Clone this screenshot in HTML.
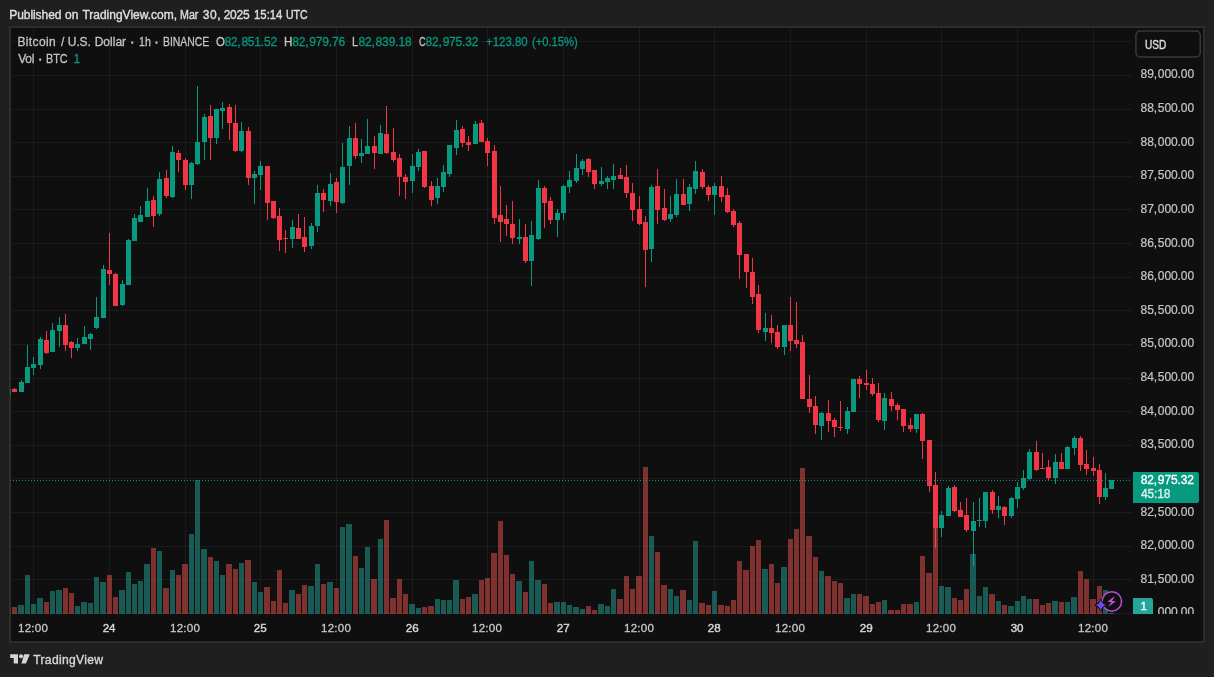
<!DOCTYPE html>
<html><head><meta charset="utf-8"><title>BTCUSD</title><style>
html,body{margin:0;padding:0}
body{width:1214px;height:677px;background:#1f1f1f;position:relative;overflow:hidden;font-family:"Liberation Sans", Arial, sans-serif;font-size:12px;color:#c4c4c4}
#txt{position:absolute;left:0;top:0;width:1214px;height:677px;will-change:transform}
.t{position:absolute;white-space:nowrap;line-height:14px;height:14px}
#frame{position:absolute;left:9px;top:26px;width:1196px;height:617px;box-sizing:border-box;border:2px solid #2d2d2d;background:#0f0f0f}
</style></head><body>
<div id="frame"></div>
<svg width="1214" height="677" viewBox="0 0 1214 677" style="position:absolute;left:0;top:0" shape-rendering="crispEdges">
<defs><clipPath id="pane"><rect x="11" y="28" width="1121" height="586"/></clipPath></defs>
<g fill="rgba(255,255,255,0.052)"><rect x="11" y="41" width="1121" height="1"/><rect x="11" y="75" width="1121" height="1"/><rect x="11" y="109" width="1121" height="1"/><rect x="11" y="142" width="1121" height="1"/><rect x="11" y="176" width="1121" height="1"/><rect x="11" y="209" width="1121" height="1"/><rect x="11" y="243" width="1121" height="1"/><rect x="11" y="277" width="1121" height="1"/><rect x="11" y="310" width="1121" height="1"/><rect x="11" y="344" width="1121" height="1"/><rect x="11" y="378" width="1121" height="1"/><rect x="11" y="411" width="1121" height="1"/><rect x="11" y="445" width="1121" height="1"/><rect x="11" y="478" width="1121" height="1"/><rect x="11" y="512" width="1121" height="1"/><rect x="11" y="546" width="1121" height="1"/><rect x="11" y="579" width="1121" height="1"/><rect x="11" y="613" width="1121" height="1"/><rect x="33" y="28" width="1" height="586"/><rect x="109" y="28" width="1" height="586"/><rect x="185" y="28" width="1" height="586"/><rect x="260" y="28" width="1" height="586"/><rect x="336" y="28" width="1" height="586"/><rect x="412" y="28" width="1" height="586"/><rect x="487" y="28" width="1" height="586"/><rect x="563" y="28" width="1" height="586"/><rect x="639" y="28" width="1" height="586"/><rect x="714" y="28" width="1" height="586"/><rect x="790" y="28" width="1" height="586"/><rect x="866" y="28" width="1" height="586"/><rect x="941" y="28" width="1" height="586"/><rect x="1017" y="28" width="1" height="586"/><rect x="1093" y="28" width="1" height="586"/></g>
<g clip-path="url(#pane)"><g fill="#089981"><rect x="8" y="389" width="1" height="6"/><rect x="6" y="389" width="5" height="6"/><rect x="21" y="380" width="1" height="12"/><rect x="19" y="382" width="5" height="10"/><rect x="27" y="345" width="1" height="38"/><rect x="25" y="367" width="5" height="16"/><rect x="33" y="357" width="1" height="18"/><rect x="31" y="364" width="5" height="4"/><rect x="40" y="337" width="1" height="32"/><rect x="38" y="339" width="5" height="26"/><rect x="52" y="323" width="1" height="29"/><rect x="50" y="330" width="5" height="22"/><rect x="59" y="317" width="1" height="30"/><rect x="57" y="325" width="5" height="6"/><rect x="77" y="338" width="1" height="13"/><rect x="75" y="344" width="5" height="4"/><rect x="84" y="326" width="1" height="18"/><rect x="82" y="337" width="5" height="7"/><rect x="90" y="333" width="1" height="17"/><rect x="88" y="334" width="5" height="5"/><rect x="96" y="297" width="1" height="32"/><rect x="94" y="317" width="5" height="11"/><rect x="103" y="265" width="1" height="53"/><rect x="101" y="269" width="5" height="49"/><rect x="122" y="280" width="1" height="26"/><rect x="120" y="284" width="5" height="21"/><rect x="128" y="239" width="1" height="46"/><rect x="126" y="240" width="5" height="45"/><rect x="134" y="214" width="1" height="27"/><rect x="132" y="218" width="5" height="23"/><rect x="140" y="206" width="1" height="16"/><rect x="138" y="215" width="5" height="7"/><rect x="147" y="188" width="1" height="29"/><rect x="145" y="201" width="5" height="16"/><rect x="159" y="172" width="1" height="44"/><rect x="157" y="179" width="5" height="35"/><rect x="172" y="146" width="1" height="52"/><rect x="170" y="152" width="5" height="45"/><rect x="191" y="162" width="1" height="37"/><rect x="189" y="163" width="5" height="22"/><rect x="197" y="86" width="1" height="79"/><rect x="195" y="142" width="5" height="22"/><rect x="204" y="114" width="1" height="46"/><rect x="202" y="117" width="5" height="25"/><rect x="216" y="109" width="1" height="35"/><rect x="214" y="109" width="5" height="29"/><rect x="222" y="102" width="1" height="27"/><rect x="220" y="108" width="5" height="3"/><rect x="241" y="122" width="1" height="30"/><rect x="239" y="131" width="5" height="20"/><rect x="254" y="171" width="1" height="33"/><rect x="252" y="174" width="5" height="4"/><rect x="260" y="161" width="1" height="29"/><rect x="258" y="166" width="5" height="9"/><rect x="292" y="220" width="1" height="28"/><rect x="290" y="227" width="5" height="12"/><rect x="311" y="223" width="1" height="26"/><rect x="309" y="226" width="5" height="20"/><rect x="317" y="185" width="1" height="47"/><rect x="315" y="193" width="5" height="33"/><rect x="330" y="173" width="1" height="33"/><rect x="328" y="184" width="5" height="17"/><rect x="342" y="143" width="1" height="61"/><rect x="340" y="167" width="5" height="36"/><rect x="349" y="126" width="1" height="59"/><rect x="347" y="138" width="5" height="28"/><rect x="361" y="139" width="1" height="24"/><rect x="359" y="153" width="5" height="3"/><rect x="367" y="119" width="1" height="35"/><rect x="365" y="146" width="5" height="8"/><rect x="380" y="125" width="1" height="29"/><rect x="378" y="133" width="5" height="21"/><rect x="412" y="154" width="1" height="39"/><rect x="410" y="166" width="5" height="15"/><rect x="418" y="149" width="1" height="22"/><rect x="416" y="152" width="5" height="15"/><rect x="437" y="178" width="1" height="26"/><rect x="435" y="186" width="5" height="12"/><rect x="443" y="165" width="1" height="27"/><rect x="441" y="172" width="5" height="15"/><rect x="449" y="145" width="1" height="32"/><rect x="447" y="145" width="5" height="29"/><rect x="456" y="120" width="1" height="35"/><rect x="454" y="130" width="5" height="18"/><rect x="475" y="121" width="1" height="23"/><rect x="473" y="124" width="5" height="20"/><rect x="519" y="219" width="1" height="25"/><rect x="517" y="237" width="5" height="2"/><rect x="531" y="221" width="1" height="65"/><rect x="529" y="235" width="5" height="26"/><rect x="538" y="180" width="1" height="60"/><rect x="536" y="188" width="5" height="51"/><rect x="557" y="209" width="1" height="28"/><rect x="555" y="213" width="5" height="7"/><rect x="563" y="185" width="1" height="35"/><rect x="561" y="186" width="5" height="27"/><rect x="569" y="171" width="1" height="22"/><rect x="567" y="180" width="5" height="7"/><rect x="576" y="154" width="1" height="29"/><rect x="574" y="168" width="5" height="13"/><rect x="582" y="159" width="1" height="16"/><rect x="580" y="161" width="5" height="8"/><rect x="601" y="167" width="1" height="19"/><rect x="599" y="181" width="5" height="3"/><rect x="607" y="176" width="1" height="13"/><rect x="605" y="178" width="5" height="4"/><rect x="613" y="164" width="1" height="25"/><rect x="611" y="176" width="5" height="4"/><rect x="651" y="185" width="1" height="77"/><rect x="649" y="187" width="5" height="62"/><rect x="670" y="196" width="1" height="26"/><rect x="668" y="214" width="5" height="5"/><rect x="676" y="179" width="1" height="38"/><rect x="674" y="194" width="5" height="21"/><rect x="689" y="184" width="1" height="27"/><rect x="687" y="187" width="5" height="17"/><rect x="695" y="161" width="1" height="33"/><rect x="693" y="171" width="5" height="18"/><rect x="714" y="183" width="1" height="32"/><rect x="712" y="186" width="5" height="9"/><rect x="765" y="313" width="1" height="28"/><rect x="763" y="328" width="5" height="4"/><rect x="784" y="325" width="1" height="30"/><rect x="782" y="325" width="5" height="22"/><rect x="821" y="412" width="1" height="28"/><rect x="819" y="413" width="5" height="13"/><rect x="847" y="407" width="1" height="27"/><rect x="845" y="411" width="5" height="18"/><rect x="853" y="379" width="1" height="33"/><rect x="851" y="379" width="5" height="33"/><rect x="884" y="393" width="1" height="37"/><rect x="882" y="398" width="5" height="23"/><rect x="916" y="414" width="1" height="19"/><rect x="914" y="414" width="5" height="15"/><rect x="941" y="511" width="1" height="26"/><rect x="939" y="515" width="5" height="13"/><rect x="948" y="486" width="1" height="30"/><rect x="946" y="488" width="5" height="28"/><rect x="973" y="502" width="1" height="64"/><rect x="971" y="521" width="5" height="10"/><rect x="979" y="498" width="1" height="29"/><rect x="977" y="520" width="5" height="1"/><rect x="985" y="492" width="1" height="36"/><rect x="983" y="492" width="5" height="29"/><rect x="998" y="496" width="1" height="22"/><rect x="996" y="506" width="5" height="4"/><rect x="1011" y="497" width="1" height="21"/><rect x="1009" y="498" width="5" height="18"/><rect x="1017" y="482" width="1" height="26"/><rect x="1015" y="487" width="5" height="12"/><rect x="1023" y="470" width="1" height="20"/><rect x="1021" y="478" width="5" height="10"/><rect x="1029" y="449" width="1" height="31"/><rect x="1027" y="452" width="5" height="27"/><rect x="1055" y="454" width="1" height="30"/><rect x="1053" y="462" width="5" height="16"/><rect x="1067" y="446" width="1" height="23"/><rect x="1065" y="447" width="5" height="22"/><rect x="1074" y="436" width="1" height="19"/><rect x="1072" y="438" width="5" height="10"/><rect x="1105" y="473" width="1" height="27"/><rect x="1103" y="488" width="5" height="9"/><rect x="1111" y="480" width="1" height="9"/><rect x="1109" y="480" width="5" height="9"/></g><g fill="#f23645"><rect x="14" y="388" width="1" height="4"/><rect x="12" y="389" width="5" height="3"/><rect x="46" y="331" width="1" height="23"/><rect x="44" y="340" width="5" height="13"/><rect x="65" y="314" width="1" height="37"/><rect x="63" y="325" width="5" height="20"/><rect x="71" y="341" width="1" height="17"/><rect x="69" y="342" width="5" height="6"/><rect x="109" y="233" width="1" height="52"/><rect x="107" y="270" width="5" height="4"/><rect x="115" y="273" width="1" height="33"/><rect x="113" y="274" width="5" height="32"/><rect x="153" y="196" width="1" height="31"/><rect x="151" y="200" width="5" height="16"/><rect x="166" y="170" width="1" height="28"/><rect x="164" y="178" width="5" height="18"/><rect x="178" y="150" width="1" height="22"/><rect x="176" y="153" width="5" height="7"/><rect x="185" y="158" width="1" height="32"/><rect x="183" y="160" width="5" height="25"/><rect x="210" y="105" width="1" height="55"/><rect x="208" y="116" width="5" height="22"/><rect x="229" y="104" width="1" height="36"/><rect x="227" y="107" width="5" height="16"/><rect x="235" y="105" width="1" height="47"/><rect x="233" y="123" width="5" height="28"/><rect x="248" y="127" width="1" height="58"/><rect x="246" y="131" width="5" height="47"/><rect x="267" y="166" width="1" height="54"/><rect x="265" y="166" width="5" height="37"/><rect x="273" y="201" width="1" height="18"/><rect x="271" y="201" width="5" height="17"/><rect x="279" y="208" width="1" height="43"/><rect x="277" y="216" width="5" height="24"/><rect x="285" y="230" width="1" height="23"/><rect x="283" y="238" width="5" height="1"/><rect x="298" y="214" width="1" height="25"/><rect x="296" y="228" width="5" height="11"/><rect x="304" y="217" width="1" height="35"/><rect x="302" y="237" width="5" height="10"/><rect x="323" y="189" width="1" height="23"/><rect x="321" y="193" width="5" height="7"/><rect x="336" y="178" width="1" height="35"/><rect x="334" y="182" width="5" height="20"/><rect x="355" y="123" width="1" height="36"/><rect x="353" y="138" width="5" height="18"/><rect x="374" y="136" width="1" height="33"/><rect x="372" y="146" width="5" height="7"/><rect x="386" y="106" width="1" height="48"/><rect x="384" y="134" width="5" height="19"/><rect x="393" y="128" width="1" height="34"/><rect x="391" y="152" width="5" height="8"/><rect x="399" y="154" width="1" height="42"/><rect x="397" y="158" width="5" height="19"/><rect x="405" y="174" width="1" height="25"/><rect x="403" y="177" width="5" height="5"/><rect x="424" y="151" width="1" height="37"/><rect x="422" y="151" width="5" height="36"/><rect x="431" y="181" width="1" height="25"/><rect x="429" y="186" width="5" height="14"/><rect x="462" y="126" width="1" height="21"/><rect x="460" y="129" width="5" height="14"/><rect x="468" y="136" width="1" height="15"/><rect x="466" y="142" width="5" height="3"/><rect x="481" y="120" width="1" height="22"/><rect x="479" y="123" width="5" height="19"/><rect x="487" y="138" width="1" height="28"/><rect x="485" y="141" width="5" height="12"/><rect x="494" y="145" width="1" height="79"/><rect x="492" y="151" width="5" height="67"/><rect x="500" y="186" width="1" height="56"/><rect x="498" y="215" width="5" height="7"/><rect x="506" y="205" width="1" height="31"/><rect x="504" y="219" width="5" height="5"/><rect x="512" y="201" width="1" height="43"/><rect x="510" y="224" width="5" height="14"/><rect x="525" y="224" width="1" height="39"/><rect x="523" y="237" width="5" height="24"/><rect x="544" y="186" width="1" height="42"/><rect x="542" y="188" width="5" height="15"/><rect x="550" y="197" width="1" height="27"/><rect x="548" y="201" width="5" height="19"/><rect x="588" y="158" width="1" height="19"/><rect x="586" y="159" width="5" height="13"/><rect x="594" y="170" width="1" height="19"/><rect x="592" y="170" width="5" height="14"/><rect x="620" y="168" width="1" height="11"/><rect x="618" y="175" width="5" height="4"/><rect x="626" y="165" width="1" height="33"/><rect x="624" y="177" width="5" height="16"/><rect x="632" y="183" width="1" height="38"/><rect x="630" y="193" width="5" height="17"/><rect x="639" y="196" width="1" height="29"/><rect x="637" y="209" width="5" height="15"/><rect x="645" y="216" width="1" height="71"/><rect x="643" y="222" width="5" height="28"/><rect x="657" y="169" width="1" height="55"/><rect x="655" y="186" width="5" height="24"/><rect x="664" y="189" width="1" height="32"/><rect x="662" y="208" width="5" height="12"/><rect x="683" y="179" width="1" height="26"/><rect x="681" y="194" width="5" height="11"/><rect x="702" y="169" width="1" height="20"/><rect x="700" y="172" width="5" height="15"/><rect x="708" y="185" width="1" height="16"/><rect x="706" y="187" width="5" height="8"/><rect x="721" y="176" width="1" height="26"/><rect x="719" y="186" width="5" height="11"/><rect x="727" y="188" width="1" height="25"/><rect x="725" y="195" width="5" height="17"/><rect x="733" y="209" width="1" height="18"/><rect x="731" y="211" width="5" height="14"/><rect x="739" y="221" width="1" height="58"/><rect x="737" y="223" width="5" height="32"/><rect x="746" y="254" width="1" height="34"/><rect x="744" y="254" width="5" height="18"/><rect x="752" y="258" width="1" height="46"/><rect x="750" y="272" width="5" height="25"/><rect x="758" y="285" width="1" height="48"/><rect x="756" y="294" width="5" height="36"/><rect x="771" y="315" width="1" height="28"/><rect x="769" y="328" width="5" height="5"/><rect x="777" y="325" width="1" height="24"/><rect x="775" y="332" width="5" height="15"/><rect x="790" y="297" width="1" height="54"/><rect x="788" y="325" width="5" height="16"/><rect x="796" y="302" width="1" height="46"/><rect x="794" y="340" width="5" height="4"/><rect x="802" y="335" width="1" height="64"/><rect x="800" y="342" width="5" height="57"/><rect x="809" y="375" width="1" height="38"/><rect x="807" y="399" width="5" height="8"/><rect x="815" y="396" width="1" height="38"/><rect x="813" y="406" width="5" height="19"/><rect x="828" y="400" width="1" height="32"/><rect x="826" y="413" width="5" height="8"/><rect x="834" y="418" width="1" height="19"/><rect x="832" y="420" width="5" height="7"/><rect x="840" y="401" width="1" height="30"/><rect x="838" y="427" width="5" height="1"/><rect x="859" y="376" width="1" height="22"/><rect x="857" y="379" width="5" height="5"/><rect x="866" y="370" width="1" height="20"/><rect x="864" y="383" width="5" height="2"/><rect x="872" y="378" width="1" height="18"/><rect x="870" y="384" width="5" height="10"/><rect x="878" y="383" width="1" height="39"/><rect x="876" y="393" width="5" height="27"/><rect x="891" y="392" width="1" height="19"/><rect x="889" y="399" width="5" height="7"/><rect x="897" y="403" width="1" height="17"/><rect x="895" y="405" width="5" height="5"/><rect x="903" y="409" width="1" height="23"/><rect x="901" y="409" width="5" height="17"/><rect x="910" y="418" width="1" height="14"/><rect x="908" y="425" width="5" height="4"/><rect x="922" y="413" width="1" height="46"/><rect x="920" y="414" width="5" height="27"/><rect x="929" y="440" width="1" height="52"/><rect x="927" y="440" width="5" height="46"/><rect x="935" y="472" width="1" height="76"/><rect x="933" y="485" width="5" height="43"/><rect x="954" y="485" width="1" height="27"/><rect x="952" y="487" width="5" height="24"/><rect x="960" y="502" width="1" height="15"/><rect x="958" y="510" width="5" height="7"/><rect x="966" y="498" width="1" height="34"/><rect x="964" y="515" width="5" height="15"/><rect x="992" y="490" width="1" height="24"/><rect x="990" y="492" width="5" height="18"/><rect x="1004" y="506" width="1" height="19"/><rect x="1002" y="507" width="5" height="9"/><rect x="1036" y="441" width="1" height="30"/><rect x="1034" y="452" width="5" height="18"/><rect x="1042" y="453" width="1" height="16"/><rect x="1040" y="468" width="5" height="1"/><rect x="1048" y="460" width="1" height="20"/><rect x="1046" y="467" width="5" height="11"/><rect x="1061" y="453" width="1" height="16"/><rect x="1059" y="462" width="5" height="7"/><rect x="1080" y="436" width="1" height="35"/><rect x="1078" y="438" width="5" height="27"/><rect x="1086" y="450" width="1" height="25"/><rect x="1084" y="464" width="5" height="5"/><rect x="1093" y="457" width="1" height="19"/><rect x="1091" y="468" width="5" height="3"/><rect x="1099" y="464" width="1" height="40"/><rect x="1097" y="470" width="5" height="27"/></g></g>
<g clip-path="url(#pane)"><g fill="rgba(38,166,154,0.5)"><rect x="6" y="608" width="5" height="6"/><rect x="18" y="605" width="6" height="9"/><rect x="25" y="575" width="5" height="39"/><rect x="31" y="604" width="5" height="10"/><rect x="37" y="598" width="6" height="16"/><rect x="50" y="591" width="5" height="23"/><rect x="56" y="590" width="6" height="24"/><rect x="75" y="606" width="5" height="8"/><rect x="81" y="602" width="6" height="12"/><rect x="88" y="603" width="5" height="11"/><rect x="94" y="577" width="5" height="37"/><rect x="100" y="582" width="6" height="32"/><rect x="119" y="590" width="6" height="24"/><rect x="126" y="572" width="5" height="42"/><rect x="132" y="584" width="5" height="30"/><rect x="138" y="581" width="5" height="33"/><rect x="144" y="564" width="6" height="50"/><rect x="157" y="551" width="5" height="63"/><rect x="170" y="570" width="5" height="44"/><rect x="189" y="534" width="5" height="80"/><rect x="195" y="480" width="5" height="134"/><rect x="201" y="549" width="6" height="65"/><rect x="214" y="561" width="5" height="53"/><rect x="220" y="575" width="5" height="39"/><rect x="239" y="563" width="5" height="51"/><rect x="252" y="582" width="5" height="32"/><rect x="258" y="592" width="5" height="22"/><rect x="289" y="590" width="6" height="24"/><rect x="308" y="586" width="6" height="28"/><rect x="315" y="564" width="5" height="50"/><rect x="327" y="582" width="6" height="32"/><rect x="340" y="527" width="5" height="87"/><rect x="346" y="524" width="6" height="90"/><rect x="359" y="568" width="5" height="46"/><rect x="365" y="547" width="5" height="67"/><rect x="378" y="539" width="5" height="75"/><rect x="409" y="604" width="6" height="10"/><rect x="416" y="608" width="5" height="6"/><rect x="435" y="599" width="5" height="15"/><rect x="441" y="600" width="5" height="14"/><rect x="447" y="600" width="5" height="14"/><rect x="453" y="580" width="6" height="34"/><rect x="472" y="594" width="6" height="20"/><rect x="516" y="581" width="6" height="33"/><rect x="529" y="561" width="5" height="53"/><rect x="535" y="580" width="6" height="34"/><rect x="554" y="602" width="6" height="12"/><rect x="561" y="602" width="5" height="12"/><rect x="567" y="605" width="5" height="9"/><rect x="573" y="607" width="6" height="7"/><rect x="580" y="609" width="5" height="5"/><rect x="598" y="604" width="6" height="10"/><rect x="605" y="606" width="5" height="8"/><rect x="611" y="589" width="5" height="25"/><rect x="649" y="536" width="5" height="78"/><rect x="668" y="589" width="5" height="25"/><rect x="674" y="596" width="5" height="18"/><rect x="687" y="600" width="5" height="14"/><rect x="693" y="541" width="5" height="73"/><rect x="712" y="591" width="5" height="23"/><rect x="762" y="569" width="6" height="45"/><rect x="781" y="567" width="6" height="47"/><rect x="819" y="571" width="5" height="43"/><rect x="844" y="598" width="6" height="16"/><rect x="851" y="594" width="5" height="20"/><rect x="882" y="600" width="5" height="14"/><rect x="914" y="602" width="5" height="12"/><rect x="939" y="586" width="5" height="28"/><rect x="945" y="587" width="6" height="27"/><rect x="970" y="554" width="6" height="60"/><rect x="977" y="596" width="5" height="18"/><rect x="983" y="587" width="5" height="27"/><rect x="996" y="601" width="5" height="13"/><rect x="1008" y="606" width="6" height="8"/><rect x="1015" y="601" width="5" height="13"/><rect x="1021" y="596" width="5" height="18"/><rect x="1027" y="599" width="5" height="15"/><rect x="1052" y="601" width="6" height="13"/><rect x="1065" y="602" width="5" height="12"/><rect x="1071" y="597" width="6" height="17"/><rect x="1103" y="590" width="5" height="24"/><rect x="1109" y="613" width="5" height="1"/></g><g fill="rgba(239,83,80,0.5)"><rect x="12" y="607" width="5" height="7"/><rect x="44" y="602" width="5" height="12"/><rect x="63" y="588" width="5" height="26"/><rect x="69" y="593" width="5" height="21"/><rect x="107" y="575" width="5" height="39"/><rect x="113" y="597" width="5" height="17"/><rect x="151" y="548" width="5" height="66"/><rect x="163" y="588" width="6" height="26"/><rect x="176" y="575" width="5" height="39"/><rect x="182" y="564" width="6" height="50"/><rect x="208" y="557" width="5" height="57"/><rect x="226" y="564" width="6" height="50"/><rect x="233" y="569" width="5" height="45"/><rect x="245" y="560" width="6" height="54"/><rect x="264" y="587" width="6" height="27"/><rect x="271" y="601" width="5" height="13"/><rect x="277" y="570" width="5" height="44"/><rect x="283" y="603" width="5" height="11"/><rect x="296" y="594" width="5" height="20"/><rect x="302" y="585" width="5" height="29"/><rect x="321" y="584" width="5" height="30"/><rect x="334" y="588" width="5" height="26"/><rect x="353" y="556" width="5" height="58"/><rect x="371" y="579" width="6" height="35"/><rect x="384" y="520" width="5" height="94"/><rect x="390" y="598" width="6" height="16"/><rect x="397" y="579" width="5" height="35"/><rect x="403" y="594" width="5" height="20"/><rect x="422" y="607" width="5" height="7"/><rect x="428" y="606" width="6" height="8"/><rect x="460" y="599" width="5" height="15"/><rect x="466" y="597" width="5" height="17"/><rect x="479" y="580" width="5" height="34"/><rect x="485" y="578" width="5" height="36"/><rect x="491" y="553" width="6" height="61"/><rect x="498" y="521" width="5" height="93"/><rect x="504" y="555" width="5" height="59"/><rect x="510" y="574" width="5" height="40"/><rect x="523" y="592" width="5" height="22"/><rect x="542" y="584" width="5" height="30"/><rect x="548" y="603" width="5" height="11"/><rect x="586" y="606" width="5" height="8"/><rect x="592" y="610" width="5" height="4"/><rect x="617" y="599" width="6" height="15"/><rect x="624" y="576" width="5" height="38"/><rect x="630" y="589" width="5" height="25"/><rect x="636" y="576" width="6" height="38"/><rect x="643" y="467" width="5" height="147"/><rect x="655" y="552" width="5" height="62"/><rect x="661" y="585" width="6" height="29"/><rect x="680" y="590" width="6" height="24"/><rect x="699" y="603" width="6" height="11"/><rect x="706" y="605" width="5" height="9"/><rect x="718" y="605" width="6" height="9"/><rect x="725" y="606" width="5" height="8"/><rect x="731" y="600" width="5" height="14"/><rect x="737" y="561" width="5" height="53"/><rect x="743" y="570" width="6" height="44"/><rect x="750" y="546" width="5" height="68"/><rect x="756" y="540" width="5" height="74"/><rect x="769" y="564" width="5" height="50"/><rect x="775" y="583" width="5" height="31"/><rect x="788" y="539" width="5" height="75"/><rect x="794" y="529" width="5" height="85"/><rect x="800" y="468" width="5" height="146"/><rect x="806" y="536" width="6" height="78"/><rect x="813" y="557" width="5" height="57"/><rect x="825" y="576" width="6" height="38"/><rect x="832" y="581" width="5" height="33"/><rect x="838" y="583" width="5" height="31"/><rect x="857" y="594" width="5" height="20"/><rect x="863" y="596" width="6" height="18"/><rect x="870" y="604" width="5" height="10"/><rect x="876" y="602" width="5" height="12"/><rect x="888" y="610" width="6" height="4"/><rect x="895" y="610" width="5" height="4"/><rect x="901" y="604" width="5" height="10"/><rect x="907" y="604" width="6" height="10"/><rect x="920" y="556" width="5" height="58"/><rect x="926" y="573" width="6" height="41"/><rect x="933" y="528" width="5" height="86"/><rect x="952" y="598" width="5" height="16"/><rect x="958" y="600" width="5" height="14"/><rect x="964" y="589" width="5" height="25"/><rect x="989" y="594" width="6" height="20"/><rect x="1002" y="605" width="5" height="9"/><rect x="1033" y="599" width="6" height="15"/><rect x="1040" y="605" width="5" height="9"/><rect x="1046" y="603" width="5" height="11"/><rect x="1059" y="602" width="5" height="12"/><rect x="1078" y="571" width="5" height="43"/><rect x="1084" y="579" width="5" height="35"/><rect x="1090" y="599" width="6" height="15"/><rect x="1097" y="586" width="5" height="28"/></g></g>
<g fill="#089981"><rect x="13" y="480" width="1" height="1"/><rect x="16" y="480" width="1" height="1"/><rect x="19" y="480" width="1" height="1"/><rect x="22" y="480" width="1" height="1"/><rect x="25" y="480" width="1" height="1"/><rect x="28" y="480" width="1" height="1"/><rect x="31" y="480" width="1" height="1"/><rect x="34" y="480" width="1" height="1"/><rect x="37" y="480" width="1" height="1"/><rect x="40" y="480" width="1" height="1"/><rect x="43" y="480" width="1" height="1"/><rect x="46" y="480" width="1" height="1"/><rect x="49" y="480" width="1" height="1"/><rect x="52" y="480" width="1" height="1"/><rect x="55" y="480" width="1" height="1"/><rect x="58" y="480" width="1" height="1"/><rect x="61" y="480" width="1" height="1"/><rect x="64" y="480" width="1" height="1"/><rect x="67" y="480" width="1" height="1"/><rect x="70" y="480" width="1" height="1"/><rect x="73" y="480" width="1" height="1"/><rect x="76" y="480" width="1" height="1"/><rect x="79" y="480" width="1" height="1"/><rect x="82" y="480" width="1" height="1"/><rect x="85" y="480" width="1" height="1"/><rect x="88" y="480" width="1" height="1"/><rect x="91" y="480" width="1" height="1"/><rect x="94" y="480" width="1" height="1"/><rect x="97" y="480" width="1" height="1"/><rect x="100" y="480" width="1" height="1"/><rect x="103" y="480" width="1" height="1"/><rect x="106" y="480" width="1" height="1"/><rect x="109" y="480" width="1" height="1"/><rect x="112" y="480" width="1" height="1"/><rect x="115" y="480" width="1" height="1"/><rect x="118" y="480" width="1" height="1"/><rect x="121" y="480" width="1" height="1"/><rect x="124" y="480" width="1" height="1"/><rect x="127" y="480" width="1" height="1"/><rect x="130" y="480" width="1" height="1"/><rect x="133" y="480" width="1" height="1"/><rect x="136" y="480" width="1" height="1"/><rect x="139" y="480" width="1" height="1"/><rect x="142" y="480" width="1" height="1"/><rect x="145" y="480" width="1" height="1"/><rect x="148" y="480" width="1" height="1"/><rect x="151" y="480" width="1" height="1"/><rect x="154" y="480" width="1" height="1"/><rect x="157" y="480" width="1" height="1"/><rect x="160" y="480" width="1" height="1"/><rect x="163" y="480" width="1" height="1"/><rect x="166" y="480" width="1" height="1"/><rect x="169" y="480" width="1" height="1"/><rect x="172" y="480" width="1" height="1"/><rect x="175" y="480" width="1" height="1"/><rect x="178" y="480" width="1" height="1"/><rect x="181" y="480" width="1" height="1"/><rect x="184" y="480" width="1" height="1"/><rect x="187" y="480" width="1" height="1"/><rect x="190" y="480" width="1" height="1"/><rect x="193" y="480" width="1" height="1"/><rect x="196" y="480" width="1" height="1"/><rect x="199" y="480" width="1" height="1"/><rect x="202" y="480" width="1" height="1"/><rect x="205" y="480" width="1" height="1"/><rect x="208" y="480" width="1" height="1"/><rect x="211" y="480" width="1" height="1"/><rect x="214" y="480" width="1" height="1"/><rect x="217" y="480" width="1" height="1"/><rect x="220" y="480" width="1" height="1"/><rect x="223" y="480" width="1" height="1"/><rect x="226" y="480" width="1" height="1"/><rect x="229" y="480" width="1" height="1"/><rect x="232" y="480" width="1" height="1"/><rect x="235" y="480" width="1" height="1"/><rect x="238" y="480" width="1" height="1"/><rect x="241" y="480" width="1" height="1"/><rect x="244" y="480" width="1" height="1"/><rect x="247" y="480" width="1" height="1"/><rect x="250" y="480" width="1" height="1"/><rect x="253" y="480" width="1" height="1"/><rect x="256" y="480" width="1" height="1"/><rect x="259" y="480" width="1" height="1"/><rect x="262" y="480" width="1" height="1"/><rect x="265" y="480" width="1" height="1"/><rect x="268" y="480" width="1" height="1"/><rect x="271" y="480" width="1" height="1"/><rect x="274" y="480" width="1" height="1"/><rect x="277" y="480" width="1" height="1"/><rect x="280" y="480" width="1" height="1"/><rect x="283" y="480" width="1" height="1"/><rect x="286" y="480" width="1" height="1"/><rect x="289" y="480" width="1" height="1"/><rect x="292" y="480" width="1" height="1"/><rect x="295" y="480" width="1" height="1"/><rect x="298" y="480" width="1" height="1"/><rect x="301" y="480" width="1" height="1"/><rect x="304" y="480" width="1" height="1"/><rect x="307" y="480" width="1" height="1"/><rect x="310" y="480" width="1" height="1"/><rect x="313" y="480" width="1" height="1"/><rect x="316" y="480" width="1" height="1"/><rect x="319" y="480" width="1" height="1"/><rect x="322" y="480" width="1" height="1"/><rect x="325" y="480" width="1" height="1"/><rect x="328" y="480" width="1" height="1"/><rect x="331" y="480" width="1" height="1"/><rect x="334" y="480" width="1" height="1"/><rect x="337" y="480" width="1" height="1"/><rect x="340" y="480" width="1" height="1"/><rect x="343" y="480" width="1" height="1"/><rect x="346" y="480" width="1" height="1"/><rect x="349" y="480" width="1" height="1"/><rect x="352" y="480" width="1" height="1"/><rect x="355" y="480" width="1" height="1"/><rect x="358" y="480" width="1" height="1"/><rect x="361" y="480" width="1" height="1"/><rect x="364" y="480" width="1" height="1"/><rect x="367" y="480" width="1" height="1"/><rect x="370" y="480" width="1" height="1"/><rect x="373" y="480" width="1" height="1"/><rect x="376" y="480" width="1" height="1"/><rect x="379" y="480" width="1" height="1"/><rect x="382" y="480" width="1" height="1"/><rect x="385" y="480" width="1" height="1"/><rect x="388" y="480" width="1" height="1"/><rect x="391" y="480" width="1" height="1"/><rect x="394" y="480" width="1" height="1"/><rect x="397" y="480" width="1" height="1"/><rect x="400" y="480" width="1" height="1"/><rect x="403" y="480" width="1" height="1"/><rect x="406" y="480" width="1" height="1"/><rect x="409" y="480" width="1" height="1"/><rect x="412" y="480" width="1" height="1"/><rect x="415" y="480" width="1" height="1"/><rect x="418" y="480" width="1" height="1"/><rect x="421" y="480" width="1" height="1"/><rect x="424" y="480" width="1" height="1"/><rect x="427" y="480" width="1" height="1"/><rect x="430" y="480" width="1" height="1"/><rect x="433" y="480" width="1" height="1"/><rect x="436" y="480" width="1" height="1"/><rect x="439" y="480" width="1" height="1"/><rect x="442" y="480" width="1" height="1"/><rect x="445" y="480" width="1" height="1"/><rect x="448" y="480" width="1" height="1"/><rect x="451" y="480" width="1" height="1"/><rect x="454" y="480" width="1" height="1"/><rect x="457" y="480" width="1" height="1"/><rect x="460" y="480" width="1" height="1"/><rect x="463" y="480" width="1" height="1"/><rect x="466" y="480" width="1" height="1"/><rect x="469" y="480" width="1" height="1"/><rect x="472" y="480" width="1" height="1"/><rect x="475" y="480" width="1" height="1"/><rect x="478" y="480" width="1" height="1"/><rect x="481" y="480" width="1" height="1"/><rect x="484" y="480" width="1" height="1"/><rect x="487" y="480" width="1" height="1"/><rect x="490" y="480" width="1" height="1"/><rect x="493" y="480" width="1" height="1"/><rect x="496" y="480" width="1" height="1"/><rect x="499" y="480" width="1" height="1"/><rect x="502" y="480" width="1" height="1"/><rect x="505" y="480" width="1" height="1"/><rect x="508" y="480" width="1" height="1"/><rect x="511" y="480" width="1" height="1"/><rect x="514" y="480" width="1" height="1"/><rect x="517" y="480" width="1" height="1"/><rect x="520" y="480" width="1" height="1"/><rect x="523" y="480" width="1" height="1"/><rect x="526" y="480" width="1" height="1"/><rect x="529" y="480" width="1" height="1"/><rect x="532" y="480" width="1" height="1"/><rect x="535" y="480" width="1" height="1"/><rect x="538" y="480" width="1" height="1"/><rect x="541" y="480" width="1" height="1"/><rect x="544" y="480" width="1" height="1"/><rect x="547" y="480" width="1" height="1"/><rect x="550" y="480" width="1" height="1"/><rect x="553" y="480" width="1" height="1"/><rect x="556" y="480" width="1" height="1"/><rect x="559" y="480" width="1" height="1"/><rect x="562" y="480" width="1" height="1"/><rect x="565" y="480" width="1" height="1"/><rect x="568" y="480" width="1" height="1"/><rect x="571" y="480" width="1" height="1"/><rect x="574" y="480" width="1" height="1"/><rect x="577" y="480" width="1" height="1"/><rect x="580" y="480" width="1" height="1"/><rect x="583" y="480" width="1" height="1"/><rect x="586" y="480" width="1" height="1"/><rect x="589" y="480" width="1" height="1"/><rect x="592" y="480" width="1" height="1"/><rect x="595" y="480" width="1" height="1"/><rect x="598" y="480" width="1" height="1"/><rect x="601" y="480" width="1" height="1"/><rect x="604" y="480" width="1" height="1"/><rect x="607" y="480" width="1" height="1"/><rect x="610" y="480" width="1" height="1"/><rect x="613" y="480" width="1" height="1"/><rect x="616" y="480" width="1" height="1"/><rect x="619" y="480" width="1" height="1"/><rect x="622" y="480" width="1" height="1"/><rect x="625" y="480" width="1" height="1"/><rect x="628" y="480" width="1" height="1"/><rect x="631" y="480" width="1" height="1"/><rect x="634" y="480" width="1" height="1"/><rect x="637" y="480" width="1" height="1"/><rect x="640" y="480" width="1" height="1"/><rect x="643" y="480" width="1" height="1"/><rect x="646" y="480" width="1" height="1"/><rect x="649" y="480" width="1" height="1"/><rect x="652" y="480" width="1" height="1"/><rect x="655" y="480" width="1" height="1"/><rect x="658" y="480" width="1" height="1"/><rect x="661" y="480" width="1" height="1"/><rect x="664" y="480" width="1" height="1"/><rect x="667" y="480" width="1" height="1"/><rect x="670" y="480" width="1" height="1"/><rect x="673" y="480" width="1" height="1"/><rect x="676" y="480" width="1" height="1"/><rect x="679" y="480" width="1" height="1"/><rect x="682" y="480" width="1" height="1"/><rect x="685" y="480" width="1" height="1"/><rect x="688" y="480" width="1" height="1"/><rect x="691" y="480" width="1" height="1"/><rect x="694" y="480" width="1" height="1"/><rect x="697" y="480" width="1" height="1"/><rect x="700" y="480" width="1" height="1"/><rect x="703" y="480" width="1" height="1"/><rect x="706" y="480" width="1" height="1"/><rect x="709" y="480" width="1" height="1"/><rect x="712" y="480" width="1" height="1"/><rect x="715" y="480" width="1" height="1"/><rect x="718" y="480" width="1" height="1"/><rect x="721" y="480" width="1" height="1"/><rect x="724" y="480" width="1" height="1"/><rect x="727" y="480" width="1" height="1"/><rect x="730" y="480" width="1" height="1"/><rect x="733" y="480" width="1" height="1"/><rect x="736" y="480" width="1" height="1"/><rect x="739" y="480" width="1" height="1"/><rect x="742" y="480" width="1" height="1"/><rect x="745" y="480" width="1" height="1"/><rect x="748" y="480" width="1" height="1"/><rect x="751" y="480" width="1" height="1"/><rect x="754" y="480" width="1" height="1"/><rect x="757" y="480" width="1" height="1"/><rect x="760" y="480" width="1" height="1"/><rect x="763" y="480" width="1" height="1"/><rect x="766" y="480" width="1" height="1"/><rect x="769" y="480" width="1" height="1"/><rect x="772" y="480" width="1" height="1"/><rect x="775" y="480" width="1" height="1"/><rect x="778" y="480" width="1" height="1"/><rect x="781" y="480" width="1" height="1"/><rect x="784" y="480" width="1" height="1"/><rect x="787" y="480" width="1" height="1"/><rect x="790" y="480" width="1" height="1"/><rect x="793" y="480" width="1" height="1"/><rect x="796" y="480" width="1" height="1"/><rect x="799" y="480" width="1" height="1"/><rect x="802" y="480" width="1" height="1"/><rect x="805" y="480" width="1" height="1"/><rect x="808" y="480" width="1" height="1"/><rect x="811" y="480" width="1" height="1"/><rect x="814" y="480" width="1" height="1"/><rect x="817" y="480" width="1" height="1"/><rect x="820" y="480" width="1" height="1"/><rect x="823" y="480" width="1" height="1"/><rect x="826" y="480" width="1" height="1"/><rect x="829" y="480" width="1" height="1"/><rect x="832" y="480" width="1" height="1"/><rect x="835" y="480" width="1" height="1"/><rect x="838" y="480" width="1" height="1"/><rect x="841" y="480" width="1" height="1"/><rect x="844" y="480" width="1" height="1"/><rect x="847" y="480" width="1" height="1"/><rect x="850" y="480" width="1" height="1"/><rect x="853" y="480" width="1" height="1"/><rect x="856" y="480" width="1" height="1"/><rect x="859" y="480" width="1" height="1"/><rect x="862" y="480" width="1" height="1"/><rect x="865" y="480" width="1" height="1"/><rect x="868" y="480" width="1" height="1"/><rect x="871" y="480" width="1" height="1"/><rect x="874" y="480" width="1" height="1"/><rect x="877" y="480" width="1" height="1"/><rect x="880" y="480" width="1" height="1"/><rect x="883" y="480" width="1" height="1"/><rect x="886" y="480" width="1" height="1"/><rect x="889" y="480" width="1" height="1"/><rect x="892" y="480" width="1" height="1"/><rect x="895" y="480" width="1" height="1"/><rect x="898" y="480" width="1" height="1"/><rect x="901" y="480" width="1" height="1"/><rect x="904" y="480" width="1" height="1"/><rect x="907" y="480" width="1" height="1"/><rect x="910" y="480" width="1" height="1"/><rect x="913" y="480" width="1" height="1"/><rect x="916" y="480" width="1" height="1"/><rect x="919" y="480" width="1" height="1"/><rect x="922" y="480" width="1" height="1"/><rect x="925" y="480" width="1" height="1"/><rect x="928" y="480" width="1" height="1"/><rect x="931" y="480" width="1" height="1"/><rect x="934" y="480" width="1" height="1"/><rect x="937" y="480" width="1" height="1"/><rect x="940" y="480" width="1" height="1"/><rect x="943" y="480" width="1" height="1"/><rect x="946" y="480" width="1" height="1"/><rect x="949" y="480" width="1" height="1"/><rect x="952" y="480" width="1" height="1"/><rect x="955" y="480" width="1" height="1"/><rect x="958" y="480" width="1" height="1"/><rect x="961" y="480" width="1" height="1"/><rect x="964" y="480" width="1" height="1"/><rect x="967" y="480" width="1" height="1"/><rect x="970" y="480" width="1" height="1"/><rect x="973" y="480" width="1" height="1"/><rect x="976" y="480" width="1" height="1"/><rect x="979" y="480" width="1" height="1"/><rect x="982" y="480" width="1" height="1"/><rect x="985" y="480" width="1" height="1"/><rect x="988" y="480" width="1" height="1"/><rect x="991" y="480" width="1" height="1"/><rect x="994" y="480" width="1" height="1"/><rect x="997" y="480" width="1" height="1"/><rect x="1000" y="480" width="1" height="1"/><rect x="1003" y="480" width="1" height="1"/><rect x="1006" y="480" width="1" height="1"/><rect x="1009" y="480" width="1" height="1"/><rect x="1012" y="480" width="1" height="1"/><rect x="1015" y="480" width="1" height="1"/><rect x="1018" y="480" width="1" height="1"/><rect x="1021" y="480" width="1" height="1"/><rect x="1024" y="480" width="1" height="1"/><rect x="1027" y="480" width="1" height="1"/><rect x="1030" y="480" width="1" height="1"/><rect x="1033" y="480" width="1" height="1"/><rect x="1036" y="480" width="1" height="1"/><rect x="1039" y="480" width="1" height="1"/><rect x="1042" y="480" width="1" height="1"/><rect x="1045" y="480" width="1" height="1"/><rect x="1048" y="480" width="1" height="1"/><rect x="1051" y="480" width="1" height="1"/><rect x="1054" y="480" width="1" height="1"/><rect x="1057" y="480" width="1" height="1"/><rect x="1060" y="480" width="1" height="1"/><rect x="1063" y="480" width="1" height="1"/><rect x="1066" y="480" width="1" height="1"/><rect x="1069" y="480" width="1" height="1"/><rect x="1072" y="480" width="1" height="1"/><rect x="1075" y="480" width="1" height="1"/><rect x="1078" y="480" width="1" height="1"/><rect x="1081" y="480" width="1" height="1"/><rect x="1084" y="480" width="1" height="1"/><rect x="1087" y="480" width="1" height="1"/><rect x="1090" y="480" width="1" height="1"/><rect x="1093" y="480" width="1" height="1"/><rect x="1096" y="480" width="1" height="1"/><rect x="1099" y="480" width="1" height="1"/><rect x="1102" y="480" width="1" height="1"/><rect x="1105" y="480" width="1" height="1"/><rect x="1108" y="480" width="1" height="1"/><rect x="1111" y="480" width="1" height="1"/><rect x="1114" y="480" width="1" height="1"/><rect x="1117" y="480" width="1" height="1"/><rect x="1120" y="480" width="1" height="1"/><rect x="1123" y="480" width="1" height="1"/><rect x="1126" y="480" width="1" height="1"/><rect x="1129" y="480" width="1" height="1"/></g>
<rect x="10" y="389" width="1" height="6" fill="#16705f"/><rect x="10" y="608" width="1" height="6" fill="#1f4a45"/><rect x="10" y="480" width="1" height="1" fill="#167a69"/>
</svg>
<div id="txt">
<div style="position:absolute;left:1132px;top:28px;width:71px;height:586px;overflow:hidden">
<div class="t" style="left:8.60px;top:39.00px;font-size:12px;letter-spacing:-0.081px;color:#c6c6c6;-webkit-text-stroke:0.2px #c6c6c6">89<span style="letter-spacing:0.7px">,</span>000.00</div>
<div class="t" style="left:8.60px;top:73.00px;font-size:12px;letter-spacing:-0.081px;color:#c6c6c6;-webkit-text-stroke:0.2px #c6c6c6">88<span style="letter-spacing:0.7px">,</span>500.00</div>
<div class="t" style="left:8.60px;top:107.00px;font-size:12px;letter-spacing:-0.081px;color:#c6c6c6;-webkit-text-stroke:0.2px #c6c6c6">88<span style="letter-spacing:0.7px">,</span>000.00</div>
<div class="t" style="left:8.60px;top:140.00px;font-size:12px;letter-spacing:-0.081px;color:#c6c6c6;-webkit-text-stroke:0.2px #c6c6c6">87<span style="letter-spacing:0.7px">,</span>500.00</div>
<div class="t" style="left:8.60px;top:174.00px;font-size:12px;letter-spacing:-0.081px;color:#c6c6c6;-webkit-text-stroke:0.2px #c6c6c6">87<span style="letter-spacing:0.7px">,</span>000.00</div>
<div class="t" style="left:8.60px;top:208.00px;font-size:12px;letter-spacing:-0.081px;color:#c6c6c6;-webkit-text-stroke:0.2px #c6c6c6">86<span style="letter-spacing:0.7px">,</span>500.00</div>
<div class="t" style="left:8.60px;top:241.00px;font-size:12px;letter-spacing:-0.081px;color:#c6c6c6;-webkit-text-stroke:0.2px #c6c6c6">86<span style="letter-spacing:0.7px">,</span>000.00</div>
<div class="t" style="left:8.60px;top:275.00px;font-size:12px;letter-spacing:-0.081px;color:#c6c6c6;-webkit-text-stroke:0.2px #c6c6c6">85<span style="letter-spacing:0.7px">,</span>500.00</div>
<div class="t" style="left:8.60px;top:308.00px;font-size:12px;letter-spacing:-0.081px;color:#c6c6c6;-webkit-text-stroke:0.2px #c6c6c6">85<span style="letter-spacing:0.7px">,</span>000.00</div>
<div class="t" style="left:8.60px;top:342.00px;font-size:12px;letter-spacing:-0.081px;color:#c6c6c6;-webkit-text-stroke:0.2px #c6c6c6">84<span style="letter-spacing:0.7px">,</span>500.00</div>
<div class="t" style="left:8.60px;top:376.00px;font-size:12px;letter-spacing:-0.081px;color:#c6c6c6;-webkit-text-stroke:0.2px #c6c6c6">84<span style="letter-spacing:0.7px">,</span>000.00</div>
<div class="t" style="left:8.60px;top:409.00px;font-size:12px;letter-spacing:-0.081px;color:#c6c6c6;-webkit-text-stroke:0.2px #c6c6c6">83<span style="letter-spacing:0.7px">,</span>500.00</div>
<div class="t" style="left:8.60px;top:477.00px;font-size:12px;letter-spacing:-0.081px;color:#c6c6c6;-webkit-text-stroke:0.2px #c6c6c6">82<span style="letter-spacing:0.7px">,</span>500.00</div>
<div class="t" style="left:8.60px;top:510.00px;font-size:12px;letter-spacing:-0.081px;color:#c6c6c6;-webkit-text-stroke:0.2px #c6c6c6">82<span style="letter-spacing:0.7px">,</span>000.00</div>
<div class="t" style="left:8.60px;top:544.00px;font-size:12px;letter-spacing:-0.081px;color:#c6c6c6;-webkit-text-stroke:0.2px #c6c6c6">81<span style="letter-spacing:0.7px">,</span>500.00</div>
<div class="t" style="left:8.60px;top:577.00px;font-size:12px;letter-spacing:-0.081px;color:#c6c6c6;-webkit-text-stroke:0.2px #c6c6c6">81<span style="letter-spacing:0.7px">,</span>000.00</div>
</div>
<svg width="80" height="40" viewBox="1130 24 80 40" style="position:absolute;left:1130px;top:24px"><rect x="1135.9" y="30.95" width="64.35" height="26.05" rx="4.3" fill="none" stroke="#393939" stroke-width="1.5"/></svg>
<div style="position:absolute;left:1133px;top:598px;width:20px;height:16px;background:#26a69a;border-radius:0 2px 0 0"></div>
<div style="position:absolute;left:1133px;top:472px;width:66px;height:31px;background:#089981;border-radius:0 2px 2px 0"></div>
<div class="t" style="left:9.25px;top:7.99px;font-size:12px;font-weight:normal;color:#dedede;letter-spacing:-0.062px;-webkit-text-stroke:0.4px #dedede;">Published</div>
<div class="t" style="left:64.95px;top:7.99px;font-size:12px;font-weight:normal;color:#dedede;letter-spacing:0.200px;-webkit-text-stroke:0.4px #dedede;">on</div>
<div class="t" style="left:82.40px;top:7.99px;font-size:12px;font-weight:normal;color:#dedede;letter-spacing:-0.003px;-webkit-text-stroke:0.4px #dedede;">TradingView.com,</div>
<div class="t" style="left:180.03px;top:7.99px;font-size:12px;font-weight:normal;color:#dedede;letter-spacing:0.000px;-webkit-text-stroke:0.4px #dedede;transform:scaleX(0.8900);transform-origin:0 0;">Mar</div>
<div class="t" style="left:202.85px;top:7.99px;font-size:12px;font-weight:normal;color:#dedede;letter-spacing:0.500px;-webkit-text-stroke:0.4px #dedede;">30<span style="letter-spacing:0.7px">,</span></div>
<div class="t" style="left:223.70px;top:7.99px;font-size:12px;font-weight:normal;color:#dedede;letter-spacing:-0.250px;-webkit-text-stroke:0.4px #dedede;">2025</div>
<div class="t" style="left:253.79px;top:7.99px;font-size:12px;font-weight:normal;color:#dedede;letter-spacing:0.000px;-webkit-text-stroke:0.4px #dedede;transform:scaleX(0.9470);transform-origin:0 0;">15:14</div>
<div class="t" style="left:286.14px;top:7.99px;font-size:12px;font-weight:normal;color:#dedede;letter-spacing:0.000px;-webkit-text-stroke:0.4px #dedede;transform:scaleX(0.8758);transform-origin:0 0;">UTC</div>
<div class="t" style="left:17.45px;top:34.79px;font-size:12px;font-weight:normal;color:#c4c4c4;letter-spacing:0.375px;-webkit-text-stroke:0.28px #c4c4c4;">Bitcoin</div>
<div class="t" style="left:60.95px;top:34.79px;font-size:12px;font-weight:normal;color:#c4c4c4;letter-spacing:0.000px;-webkit-text-stroke:0.28px #c4c4c4;">/</div>
<div class="t" style="left:67.85px;top:34.79px;font-size:12px;font-weight:normal;color:#c4c4c4;letter-spacing:-0.133px;-webkit-text-stroke:0.28px #c4c4c4;">U.S.</div>
<div class="t" style="left:94.65px;top:34.79px;font-size:12px;font-weight:normal;color:#c4c4c4;letter-spacing:0.020px;-webkit-text-stroke:0.28px #c4c4c4;">Dollar</div>
<div class="t" style="left:130.30px;top:34.79px;font-size:12px;font-weight:normal;color:#c4c4c4;letter-spacing:0.000px;-webkit-text-stroke:0.7px #c4c4c4;">·</div>
<div class="t" style="left:139.14px;top:34.79px;font-size:12px;font-weight:normal;color:#c4c4c4;letter-spacing:0.000px;-webkit-text-stroke:0.28px #c4c4c4;transform:scaleX(0.8833);transform-origin:0 0;">1h</div>
<div class="t" style="left:154.60px;top:34.79px;font-size:12px;font-weight:normal;color:#c4c4c4;letter-spacing:0.000px;-webkit-text-stroke:0.7px #c4c4c4;">·</div>
<div class="t" style="left:162.65px;top:34.79px;font-size:12px;font-weight:normal;color:#c4c4c4;letter-spacing:0.000px;-webkit-text-stroke:0.28px #c4c4c4;transform:scaleX(0.8670);transform-origin:0 0;">BINANCE</div>
<div class="t" style="left:215.72px;top:34.79px;font-size:12px;font-weight:normal;color:#c4c4c4;letter-spacing:0.000px;-webkit-text-stroke:0.28px #c4c4c4;transform:scaleX(0.9529);transform-origin:0 0;">O</div>
<div class="t" style="left:283.97px;top:34.79px;font-size:12px;font-weight:normal;color:#c4c4c4;letter-spacing:0.000px;-webkit-text-stroke:0.28px #c4c4c4;transform:scaleX(0.9714);transform-origin:0 0;">H</div>
<div class="t" style="left:352.11px;top:34.79px;font-size:12px;font-weight:normal;color:#c4c4c4;letter-spacing:0.000px;-webkit-text-stroke:0.28px #c4c4c4;transform:scaleX(0.9217);transform-origin:0 0;">L</div>
<div class="t" style="left:418.52px;top:34.79px;font-size:12px;font-weight:normal;color:#c4c4c4;letter-spacing:0.000px;-webkit-text-stroke:0.28px #c4c4c4;transform:scaleX(0.7613);transform-origin:0 0;">C</div>
<div class="t" style="left:224.40px;top:34.79px;font-size:12px;font-weight:normal;color:#089981;letter-spacing:-0.200px;-webkit-text-stroke:0.28px #089981;">82<span style="letter-spacing:0.7px">,</span>851.52</div>
<div class="t" style="left:292.20px;top:34.79px;font-size:12px;font-weight:normal;color:#089981;letter-spacing:-0.175px;-webkit-text-stroke:0.28px #089981;">82<span style="letter-spacing:0.7px">,</span>979.76</div>
<div class="t" style="left:358.40px;top:34.79px;font-size:12px;font-weight:normal;color:#089981;letter-spacing:-0.112px;-webkit-text-stroke:0.28px #089981;">82<span style="letter-spacing:0.7px">,</span>839.18</div>
<div class="t" style="left:425.60px;top:34.79px;font-size:12px;font-weight:normal;color:#089981;letter-spacing:-0.188px;-webkit-text-stroke:0.28px #089981;">82<span style="letter-spacing:0.7px">,</span>975.32</div>
<div class="t" style="left:486.12px;top:34.79px;font-size:12px;font-weight:normal;color:#089981;letter-spacing:0.000px;-webkit-text-stroke:0.28px #089981;transform:scaleX(0.9544);transform-origin:0 0;">+123.80</div>
<div class="t" style="left:531.80px;top:34.79px;font-size:12px;font-weight:normal;color:#089981;letter-spacing:0.000px;-webkit-text-stroke:0.28px #089981;transform:scaleX(0.9326);transform-origin:0 0;">(+0.15%)</div>
<div class="t" style="left:18.20px;top:51.69px;font-size:12px;font-weight:normal;color:#c4c4c4;letter-spacing:-0.250px;-webkit-text-stroke:0.28px #c4c4c4;">Vol</div>
<div class="t" style="left:38.30px;top:51.69px;font-size:12px;font-weight:normal;color:#c4c4c4;letter-spacing:0.000px;-webkit-text-stroke:0.7px #c4c4c4;">·</div>
<div class="t" style="left:45.52px;top:51.69px;font-size:12px;font-weight:normal;color:#c4c4c4;letter-spacing:0.000px;-webkit-text-stroke:0.28px #c4c4c4;transform:scaleX(0.9011);transform-origin:0 0;">BTC</div>
<div class="t" style="left:73.60px;top:51.69px;font-size:12px;font-weight:normal;color:#089981;letter-spacing:0.000px;-webkit-text-stroke:0.28px #089981;">1</div>
<div class="t" style="left:1144.87px;top:38.06px;font-size:12.1px;font-weight:normal;color:#dcdcdc;letter-spacing:0.000px;-webkit-text-stroke:0.4px #dcdcdc;transform:scaleX(0.8367);transform-origin:0 0;">USD</div>
<div class="t" style="left:18.05px;top:621.13px;font-size:11.6px;font-weight:normal;color:#c8c8c8;letter-spacing:0.212px;-webkit-text-stroke:0.28px #c8c8c8;">12:00</div>
<div class="t" style="left:102.75px;top:621.13px;font-size:11.6px;font-weight:normal;color:#d4d4d4;letter-spacing:-0.100px;-webkit-text-stroke:0.45px #d4d4d4;">24</div>
<div class="t" style="left:170.05px;top:621.13px;font-size:11.6px;font-weight:normal;color:#c8c8c8;letter-spacing:0.212px;-webkit-text-stroke:0.28px #c8c8c8;">12:00</div>
<div class="t" style="left:253.75px;top:621.13px;font-size:11.6px;font-weight:normal;color:#d4d4d4;letter-spacing:0.150px;-webkit-text-stroke:0.45px #d4d4d4;">25</div>
<div class="t" style="left:321.05px;top:621.13px;font-size:11.6px;font-weight:normal;color:#c8c8c8;letter-spacing:0.212px;-webkit-text-stroke:0.28px #c8c8c8;">12:00</div>
<div class="t" style="left:405.75px;top:621.13px;font-size:11.6px;font-weight:normal;color:#d4d4d4;letter-spacing:0.150px;-webkit-text-stroke:0.45px #d4d4d4;">26</div>
<div class="t" style="left:472.05px;top:621.13px;font-size:11.6px;font-weight:normal;color:#c8c8c8;letter-spacing:0.212px;-webkit-text-stroke:0.28px #c8c8c8;">12:00</div>
<div class="t" style="left:556.75px;top:621.13px;font-size:11.6px;font-weight:normal;color:#d4d4d4;letter-spacing:0.150px;-webkit-text-stroke:0.45px #d4d4d4;">27</div>
<div class="t" style="left:624.05px;top:621.13px;font-size:11.6px;font-weight:normal;color:#c8c8c8;letter-spacing:0.213px;-webkit-text-stroke:0.28px #c8c8c8;">12:00</div>
<div class="t" style="left:707.75px;top:621.13px;font-size:11.6px;font-weight:normal;color:#d4d4d4;letter-spacing:0.150px;-webkit-text-stroke:0.45px #d4d4d4;">28</div>
<div class="t" style="left:775.05px;top:621.13px;font-size:11.6px;font-weight:normal;color:#c8c8c8;letter-spacing:0.213px;-webkit-text-stroke:0.28px #c8c8c8;">12:00</div>
<div class="t" style="left:859.75px;top:621.13px;font-size:11.6px;font-weight:normal;color:#d4d4d4;letter-spacing:0.150px;-webkit-text-stroke:0.45px #d4d4d4;">29</div>
<div class="t" style="left:926.05px;top:621.13px;font-size:11.6px;font-weight:normal;color:#c8c8c8;letter-spacing:0.213px;-webkit-text-stroke:0.28px #c8c8c8;">12:00</div>
<div class="t" style="left:1010.75px;top:621.13px;font-size:11.6px;font-weight:normal;color:#d4d4d4;letter-spacing:-0.100px;-webkit-text-stroke:0.45px #d4d4d4;">30</div>
<div class="t" style="left:1078.05px;top:621.13px;font-size:11.6px;font-weight:normal;color:#c8c8c8;letter-spacing:0.213px;-webkit-text-stroke:0.28px #c8c8c8;">12:00</div>
<div class="t" style="left:33.20px;top:652.96px;font-size:12.1px;font-weight:normal;color:#d6d6d6;letter-spacing:0.335px;-webkit-text-stroke:0.38px #d6d6d6;">TradingView</div>
<div class="t" style="left:1140.65px;top:472.89px;font-size:12px;font-weight:normal;color:#ffffff;letter-spacing:-0.100px;-webkit-text-stroke:0.35px #fff;">82<span style="letter-spacing:0.7px">,</span>975.32</div>
<div class="t" style="left:1140.90px;top:486.99px;font-size:12px;font-weight:normal;color:rgba(255,255,255,0.8);letter-spacing:-0.113px;-webkit-text-stroke:0.35px rgba(255,255,255,0.8);">45:18</div>
<div class="t" style="left:1140.55px;top:599.47px;font-size:11.5px;font-weight:normal;color:#ffffff;letter-spacing:0.000px;-webkit-text-stroke:0.3px #fff;">1</div>
</div>
<svg width="40" height="34" viewBox="1090 584 40 34" style="position:absolute;left:1090px;top:584px">
<circle cx="1111.85" cy="601.45" r="9.7" fill="#0f0f0f" stroke="#bb4fd9" stroke-width="1.5"/>
<path d="M1114.9 596 L1107.3 601.7 L1111.3 602 L1108.3 607.1 L1115.9 601.3 L1112.1 601.1 Z" fill="#bf52dc"/>
<path d="M1100.8 599.7 Q1101.9 604 1106.2 605.1 Q1101.9 606.2 1100.8 610.5 Q1099.7 606.2 1095.4 605.1 Q1099.7 604 1100.8 599.7 Z" fill="#6a4cf5" stroke="#0f0f0f" stroke-width="1.7" stroke-linejoin="round" paint-order="stroke"/>
</svg>
<svg width="24" height="14" viewBox="0 0 24 14" style="position:absolute;left:9px;top:652px">
<path d="M1.2 2.2 H9 V11.6 H4.7 V6 H1.2 Z" fill="#d4d4d4"/>
<circle cx="12" cy="4.3" r="2.0" fill="#d4d4d4"/>
<path d="M15.1 2.2 H20.8 L17 11.6 H12.4 Z" fill="#d4d4d4"/>
</svg>
</body></html>
